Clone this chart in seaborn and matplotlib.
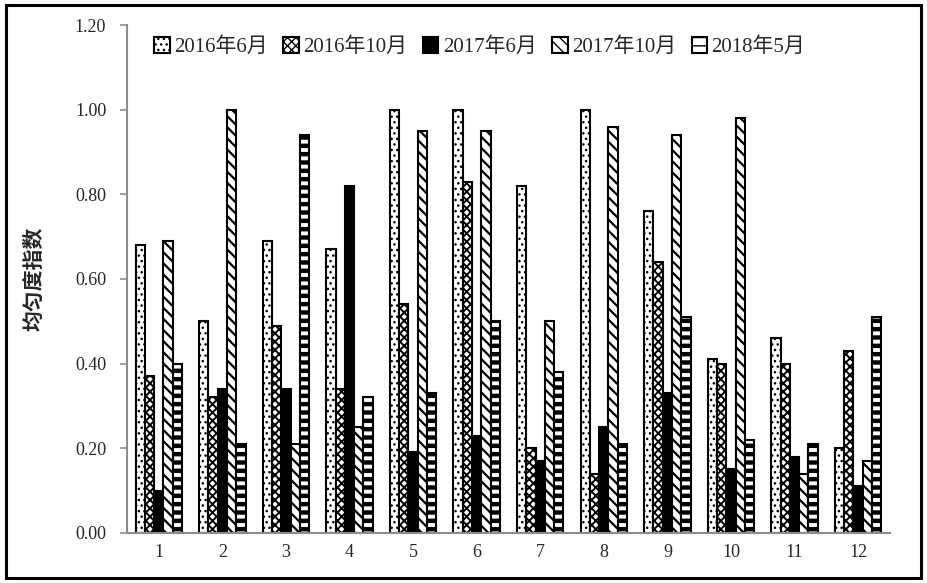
import matplotlib
matplotlib.use("Agg")
import matplotlib.pyplot as plt
import seaborn as sns
import pandas as pd
from matplotlib.patches import Rectangle

# 均匀度指数 by site and survey period
sites = ["1", "2", "3", "4", "5", "6", "7", "8", "9", "10", "11", "12"]
periods = ["2016年6月", "2016年10月", "2017年6月", "2017年10月", "2018年5月"]
jun_2016 = [0.68, 0.50, 0.69, 0.67, 1.00, 1.00, 0.82, 1.00, 0.76, 0.41, 0.46, 0.20]
oct_2016 = [0.37, 0.32, 0.49, 0.34, 0.54, 0.83, 0.20, 0.14, 0.64, 0.40, 0.40, 0.43]
jun_2017 = [0.10, 0.34, 0.34, 0.82, 0.19, 0.23, 0.17, 0.25, 0.33, 0.15, 0.18, 0.11]
oct_2017 = [0.69, 1.00, 0.21, 0.25, 0.95, 0.95, 0.50, 0.96, 0.94, 0.98, 0.14, 0.17]
may_2018 = [0.40, 0.21, 0.94, 0.32, 0.33, 0.50, 0.38, 0.21, 0.51, 0.22, 0.21, 0.51]
series = [jun_2016, oct_2016, jun_2017, oct_2017, may_2018]

df = pd.DataFrame({
    "site": [s for _ in periods for s in sites],
    "period": [p for p in periods for _ in sites],
    "value": [v for vals in series for v in vals],
})

sns.set_style("white")
plt.rcParams["font.family"] = ["Liberation Serif", "Noto Sans CJK SC"]
plt.rcParams["hatch.linewidth"] = 1.0
plt.rcParams["hatch.color"] = "black"

fig = plt.figure(figsize=(9.27, 5.83), dpi=100)
ax = fig.add_axes([0.137, 0.086, 0.823, 0.871])

sns.barplot(data=df, x="site", y="value", hue="period", order=sites,
            hue_order=periods, palette=["white"] * 5, width=0.73,
            saturation=1, legend=False, ax=ax)

# face colour, hatch, hatch line width for each period
styles = [
    ("white", "...", 1.0),
    ("white", "xxxx", 1.4),
    ("black", "", 1.0),
    ("white", "\\\\\\", 1.6),
    ("white", "--", 3.2),
]
for cont, (fc, hatch, hlw) in zip(ax.containers, styles):
    for bar in cont.patches:
        bar.set_facecolor(fc)
        bar.set_edgecolor("black")
        bar.set_linewidth(1.5)
        bar.set_hatch(hatch)
        if hasattr(bar, "set_hatch_linewidth"):
            bar.set_hatch_linewidth(hlw)

ax.set_ylim(0, 1.2)
ax.set_xlim(-0.5, len(sites) - 0.5)
yt = [0, 0.2, 0.4, 0.6, 0.8, 1.0, 1.2]
ax.set_yticks(yt)
ax.set_yticklabels([f"{t:.2f}" for t in yt])
ax.set_xticks(range(len(sites)))
ax.set_xticklabels(sites)
ax.set_xticks([i - 0.5 for i in range(len(sites) + 1)], minor=True)
ax.tick_params(axis="x", which="major", length=0, pad=8, labelsize=13)
ax.tick_params(axis="x", which="minor", length=5, width=1.2, color="#8c8c8c",
               direction="out")
ax.tick_params(axis="y", length=5, width=1.2, color="#8c8c8c", direction="out",
               pad=10, labelsize=13)
ax.tick_params(axis="both", bottom=True, left=True)

for side in ["top", "right"]:
    ax.spines[side].set_visible(False)
for side in ["left", "bottom"]:
    ax.spines[side].set_color("#8c8c8c")
    ax.spines[side].set_linewidth(1.5)

ax.set_xlabel("")
ax.set_ylabel("均匀度指数", fontsize=15, fontweight="bold",
              family=["Noto Sans CJK SC"], labelpad=22)

ax.legend(ax.containers, periods, loc="upper left", bbox_to_anchor=(0.025, 0.992),
          ncol=5, frameon=False, fontsize=15, handlelength=0.75,
          handleheight=0.75, handletextpad=0.2, columnspacing=0.75,
          borderaxespad=0)

fig.patches.append(Rectangle((0.006, 0.008), 0.988, 0.984,
                             transform=fig.transFigure, fill=False,
                             edgecolor="black", linewidth=2.2))

fig.savefig("out.png", dpi=100)
